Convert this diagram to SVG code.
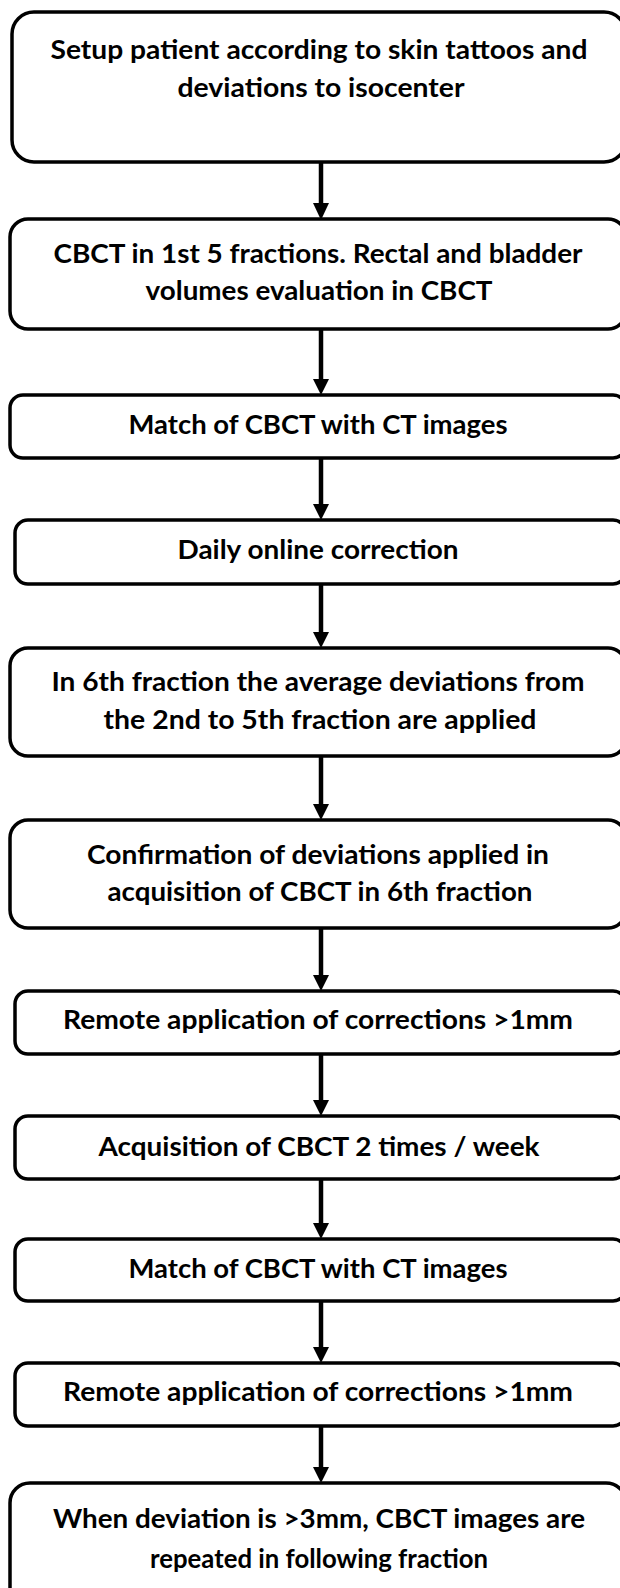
<svg xmlns="http://www.w3.org/2000/svg" width="620" height="1588" viewBox="0 0 620 1588">
<style>
.box{fill:#fff;stroke:#000;stroke-width:3.5}
.t{font-family:Lato,"Open Sans","Liberation Sans",sans-serif;font-weight:bold;font-size:26px;fill:#000;text-anchor:middle}
.c{stroke:#000;stroke-width:4.5;fill:none}
.h{fill:#000}
</style>
<rect width="620" height="1588" fill="#fff"/>
<g id="connectors">
<line class="c" x1="321" y1="162" x2="321" y2="207"/><path class="h" d="M313,203 L329,203 L321,220 Z"/>
<line class="c" x1="321" y1="329" x2="321" y2="383"/><path class="h" d="M313,379 L329,379 L321,395 Z"/>
<line class="c" x1="321" y1="458" x2="321" y2="508"/><path class="h" d="M313,504 L329,504 L321,520 Z"/>
<line class="c" x1="321" y1="584" x2="321" y2="636"/><path class="h" d="M313,632 L329,632 L321,648 Z"/>
<line class="c" x1="321" y1="756" x2="321" y2="808"/><path class="h" d="M313,804 L329,804 L321,820 Z"/>
<line class="c" x1="321" y1="928" x2="321" y2="979"/><path class="h" d="M313,975 L329,975 L321,991 Z"/>
<line class="c" x1="321" y1="1054" x2="321" y2="1104"/><path class="h" d="M313,1100 L329,1100 L321,1116 Z"/>
<line class="c" x1="321" y1="1179" x2="321" y2="1227"/><path class="h" d="M313,1223 L329,1223 L321,1239 Z"/>
<line class="c" x1="321" y1="1301" x2="321" y2="1351"/><path class="h" d="M313,1347 L329,1347 L321,1363 Z"/>
<line class="c" x1="321" y1="1426" x2="321" y2="1471"/><path class="h" d="M313,1467 L329,1467 L321,1483 Z"/>
</g>
<g id="n1"><rect class="box" x="12" y="12" width="614" height="150" rx="22"/>
<text class="t" x="319" y="59" textLength="537" lengthAdjust="spacingAndGlyphs">Setup patient according to skin tattoos and</text>
<text class="t" x="321" y="97" textLength="287" lengthAdjust="spacingAndGlyphs">deviations to isocenter</text></g>
<g id="n2"><rect class="box" x="10" y="219" width="616" height="110" rx="18"/>
<text class="t" x="318" y="263" textLength="529" lengthAdjust="spacingAndGlyphs">CBCT in 1st 5 fractions. Rectal and bladder</text>
<text class="t" x="319" y="300" textLength="347" lengthAdjust="spacingAndGlyphs">volumes evaluation in CBCT</text></g>
<g id="n3"><rect class="box" x="10" y="395" width="616" height="63" rx="13"/>
<text class="t" x="318" y="434" textLength="379" lengthAdjust="spacingAndGlyphs">Match of CBCT with CT images</text></g>
<g id="n4"><rect class="box" x="15" y="520" width="611" height="64" rx="13"/>
<text class="t" x="318" y="559" textLength="281" lengthAdjust="spacingAndGlyphs">Daily online correction</text></g>
<g id="n5"><rect class="box" x="10" y="648" width="616" height="108" rx="18"/>
<text class="t" x="318" y="691" textLength="533" lengthAdjust="spacingAndGlyphs">In 6th fraction the average deviations from</text>
<text class="t" x="320" y="729" textLength="433" lengthAdjust="spacingAndGlyphs">the 2nd to 5th fraction are applied</text></g>
<g id="n6"><rect class="box" x="10" y="820" width="616" height="108" rx="18"/>
<text class="t" x="318" y="864" textLength="462" lengthAdjust="spacingAndGlyphs">Confirmation of deviations applied in</text>
<text class="t" x="320" y="901" textLength="425" lengthAdjust="spacingAndGlyphs">acquisition of CBCT in 6th fraction</text></g>
<g id="n7"><rect class="box" x="15" y="991" width="611" height="63" rx="13"/>
<text class="t" x="318" y="1029" textLength="510" lengthAdjust="spacingAndGlyphs">Remote application of corrections &gt;1mm</text></g>
<g id="n8"><rect class="box" x="15" y="1116" width="611" height="63" rx="13"/>
<text class="t" x="319" y="1156" textLength="441" lengthAdjust="spacingAndGlyphs">Acquisition of CBCT 2 times / week</text></g>
<g id="n9"><rect class="box" x="15" y="1239" width="611" height="62" rx="13"/>
<text class="t" x="318" y="1278" textLength="379" lengthAdjust="spacingAndGlyphs">Match of CBCT with CT images</text></g>
<g id="n10"><rect class="box" x="15" y="1363" width="611" height="63" rx="13"/>
<text class="t" x="318" y="1401" textLength="510" lengthAdjust="spacingAndGlyphs">Remote application of corrections &gt;1mm</text></g>
<g id="n11"><rect class="box" x="10" y="1483" width="616" height="130" rx="20"/>
<text class="t" x="319" y="1528" textLength="532" lengthAdjust="spacingAndGlyphs">When deviation is &gt;3mm, CBCT images are</text>
<text class="t" x="319" y="1568" textLength="338" lengthAdjust="spacingAndGlyphs">repeated in following fraction</text></g>
</svg>
